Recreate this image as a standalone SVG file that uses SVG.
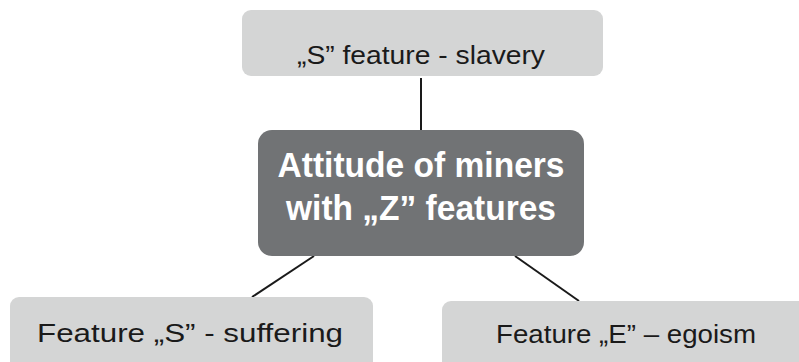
<svg xmlns="http://www.w3.org/2000/svg" width="799" height="362" viewBox="0 0 799 362">
<style>
.light{fill:#d4d5d5}
.dark{fill:#717375}
.lt{font-family:"Liberation Sans","Open Sans",sans-serif;font-size:26px;fill:#1a1a1a;text-anchor:middle}
.dt{font-family:"Liberation Sans","Open Sans",sans-serif;font-size:35px;font-weight:bold;fill:#ffffff;text-anchor:middle}
.conn{stroke:#1a1a1a;stroke-width:2;fill:none}
</style>
<rect width="799" height="362" fill="#ffffff"/>
<g id="connectors">
<line class="conn" x1="421" y1="78" x2="421" y2="130"/>
<line class="conn" x1="314" y1="256" x2="252" y2="297"/>
<line class="conn" x1="515" y1="256" x2="579" y2="301"/>
</g>
<g id="node-top">
<rect class="light" x="242" y="10" width="361" height="66" rx="9"/>
<text class="lt" x="421" y="64" textLength="248" lengthAdjust="spacingAndGlyphs">„S” feature - slavery</text>
</g>
<g id="node-center">
<rect class="dark" x="258" y="130" width="326" height="126" rx="14"/>
<text class="dt" x="421" y="177" textLength="287" lengthAdjust="spacingAndGlyphs">Attitude of miners</text>
<text class="dt" x="421" y="220" textLength="270" lengthAdjust="spacingAndGlyphs">with „Z” features</text>
</g>
<g id="node-left">
<rect class="light" x="10" y="297" width="363" height="75" rx="9"/>
<text class="lt" x="190" y="342" textLength="306" lengthAdjust="spacingAndGlyphs">Feature „S” - suffering</text>
</g>
<g id="node-right">
<rect class="light" x="442" y="301" width="367" height="71" rx="9"/>
<text class="lt" x="626" y="343" textLength="260" lengthAdjust="spacingAndGlyphs">Feature „E” – egoism</text>
</g>
</svg>
